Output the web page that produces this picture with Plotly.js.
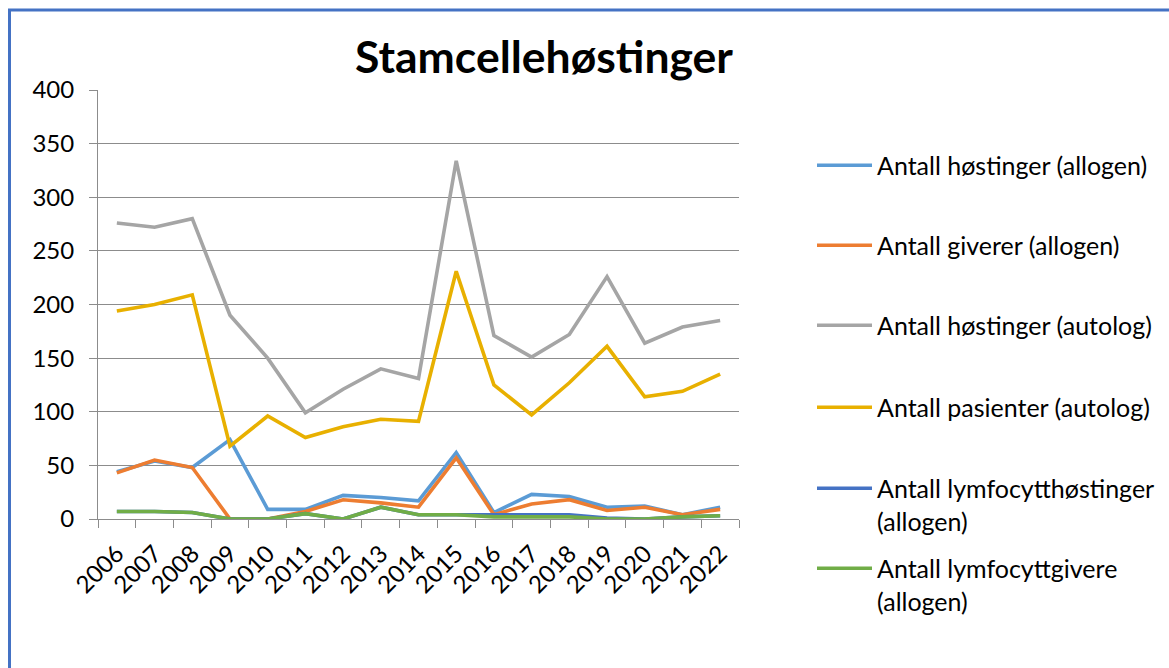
<!DOCTYPE html>
<html>
<head>
<meta charset="utf-8">
<script src="https://cdn.plot.ly/plotly-3.0.1.min.js"></script>
<style>
html,body{margin:0;padding:0;background:#fff;}
#chart{width:1169px;height:668px;}
</style>
</head>
<body>
<div id="chart"></div>
<script>
const years = ["2006","2007","2008","2009","2010","2011","2012","2013","2014","2015","2016","2017","2018","2019","2020","2021","2022"];
const seriesNames = [
  "Antall høstinger (allogen)",
  "Antall giverer (allogen)",
  "Antall høstinger (autolog)",
  "Antall pasienter (autolog)",
  "Antall lymfocytthøstinger<br>(allogen)",
  "Antall lymfocyttgivere<br>(allogen)"
];
const hostingerAllogen   = [44, 54, 48, 74, 9, 9, 22, 20, 17, 62, 6, 23, 21, 11, 12, 4, 11];
const givereAllogen      = [43, 55, 48, 0, 0, 7, 18, 15, 11, 57, 4, 14, 18, 8, 11, 4, 9];
const hostingerAutolog   = [276, 272, 280, 190, 150, 99, 121, 140, 131, 334, 171, 151, 172, 226, 164, 179, 185];
const pasienterAutolog   = [194, 200, 209, 68, 96, 76, 86, 93, 91, 231, 125, 97, 127, 161, 114, 119, 135];
const lymfHostinger      = [7, 7, 6, 0, 0, 5, 0, 11, 4, 4, 4, 4, 4, 1, 0, 2, 3];
const lymfGivere         = [7, 7, 6, 0, 0, 5, 0, 11, 4, 4, 2, 2, 2, 0, 0, 2, 3];
const seriesValues = [hostingerAllogen, givereAllogen, hostingerAutolog, pasienterAutolog, lymfHostinger, lymfGivere];
const colors = ["#5B9BD5", "#ED7D31", "#A5A5A5", "#E8B000", "#4472C4", "#70AD47"];
const yTicks = [0, 50, 100, 150, 200, 250, 300, 350, 400];

const W = 1169, H = 668;
const L = 98, R = 739, T = 90, B = 519;
const FONT = "Lato, Carlito, Calibri, sans-serif";

const legendIds = ["legend","legend2","legend3","legend4","legend5","legend6"];
const legendLineY = [165, 245, 325, 407, 488, 568];

const traces = seriesValues.map((vals, i) => ({
  type: "scatter",
  mode: "lines",
  x: years,
  y: vals,
  name: seriesNames[i],
  line: {color: colors[i], width: 3.6},
  legend: legendIds[i],
  hoverinfo: "x+y+name"
}));

const layout = {
  width: W, height: H,
  margin: {l: L, r: W - R, t: T, b: H - B, pad: 0, autoexpand: false},
  paper_bgcolor: "#fff",
  plot_bgcolor: "#fff",
  font: {family: FONT, size: 24, color: "#000"},
  title: {
    text: "<b>Stamcellehøstinger</b>",
    font: {family: FONT, size: 44.5, color: "#000"},
    x: 544 / W, xanchor: "center", xref: "container",
    y: 1 - 57 / H, yanchor: "middle", yref: "container",
    automargin: false
  },
  xaxis: {
    type: "category",
    range: [-0.5, years.length - 0.5],
    tickson: "boundaries",
    ticks: "outside", ticklen: 8, tickcolor: "#8c8c8c", tickwidth: 1,
    showgrid: false, showline: true, linecolor: "#8c8c8c", linewidth: 1,
    tickangle: -45,
    ticklabelstandoff: 10,
    tickfont: {family: FONT, size: 24, color: "#000"},
    zeroline: false,
    automargin: false
  },
  yaxis: {
    range: [0, 400],
    tickvals: yTicks,
    ticktext: yTicks.map(String),
    ticks: "outside", ticklen: 8, tickcolor: "#8c8c8c", tickwidth: 1,
    showgrid: true, gridcolor: "#8c8c8c", gridwidth: 1,
    showline: true, linecolor: "#8c8c8c", linewidth: 1,
    zeroline: false,
    ticklabelstandoff: 10,
    tickfont: {family: FONT, size: 24, color: "#000"},
    automargin: false
  },
  shapes: [
    {type: "line", xref: "paper", yref: "paper",
     x0: (9.5 - L) / (R - L), x1: (9.5 - L) / (R - L),
     y0: (B - 10) / (B - T), y1: (B - H - 5) / (B - T),
     line: {color: "#4472C4", width: 3}},
    {type: "line", xref: "paper", yref: "paper",
     x0: (8 - L) / (R - L), x1: (W + 5 - L) / (R - L),
     y0: (B - 10) / (B - T), y1: (B - 10) / (B - T),
     line: {color: "#4472C4", width: 3}}
  ],
  showlegend: true
};

legendIds.forEach((id, i) => {
  layout[id] = {
    x: 812 / W,
    xanchor: "left",
    xref: "container",
    y: 1 - (legendLineY[i] - 22.5) / H,
    yanchor: "top",
    yref: "container",
    bgcolor: "rgba(0,0,0,0)",
    borderwidth: 0,
    itemwidth: 55,
    valign: "top",
    font: {family: FONT, size: 25, color: "#000"}
  };
});

Plotly.newPlot("chart", traces, layout, {displayModeBar: false, staticPlot: true});
</script>
</body>
</html>
